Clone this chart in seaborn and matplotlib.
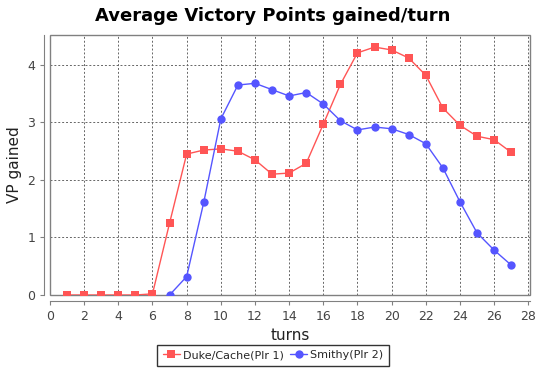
import numpy as np
import pandas as pd
import seaborn as sns
import matplotlib.pyplot as plt
from matplotlib.patches import Rectangle

# data
turns_p1 = list(range(1, 28))
vp_p1 = [0, 0, 0, 0, 0, 0.02, 1.25, 2.45, 2.52, 2.54, 2.50, 2.35, 2.10, 2.12,
         2.29, 2.97, 3.66, 4.21, 4.31, 4.26, 4.12, 3.82, 3.25, 2.95, 2.76, 2.70, 2.48]
turns_p2 = list(range(7, 28))
vp_p2 = [0, 0.32, 1.61, 3.06, 3.65, 3.68, 3.57, 3.46, 3.52, 3.32, 3.03, 2.87,
         2.92, 2.89, 2.79, 2.63, 2.21, 1.62, 1.08, 0.78, 0.52]
names = ["Duke/Cache(Plr 1)", "Smithy(Plr 2)"]
x_ticks = list(range(0, 29, 2))
y_ticks = [0, 1, 2, 3, 4]

df = pd.concat([
    pd.DataFrame({"turn": turns_p1, "vp": vp_p1, "player": names[0]}),
    pd.DataFrame({"turn": turns_p2, "vp": vp_p2, "player": names[1]}),
])

sns.set_style("white")
plt.rcParams['font.family'] = ['DejaVu Sans']

fig = plt.figure(figsize=(5.46, 3.69), dpi=100)
ax = fig.add_axes([50 / 546, 74 / 369, 480 / 546, 260 / 369])

sns.lineplot(data=df, x="turn", y="vp", hue="player", style="player",
             palette=["#FF5555", "#5555FF"], markers=["s", "o"], dashes=False,
             markersize=6, markeredgewidth=0, linewidth=1, ax=ax)

ax.set_xlim(0, 28.1)
ax.set_ylim(0, 4.52)
ax.set_xticks(x_ticks)
ax.set_yticks(y_ticks)
ax.grid(True, color="#666666", linestyle=(0, (2, 2)), linewidth=0.7)
ax.tick_params(axis="both", labelsize=9, colors="#808080", length=3,
               direction="out", left=True, bottom=True, labelcolor="#444444")

for side in ["top", "right"]:
    ax.spines[side].set_visible(False)
for side in ["left", "bottom"]:
    ax.spines[side].set_position(("outward", 4))
    ax.spines[side].set_color("#808080")
ax.add_patch(Rectangle((0, 0), 1, 1, transform=ax.transAxes, fill=False,
                       edgecolor="#808080", linewidth=1, clip_on=False))

ax.set_xlabel("turns", fontsize=11, color="#222222")
ax.set_ylabel("VP gained", fontsize=11, color="#222222")
fig.suptitle("Average Victory Points gained/turn", fontsize=13,
             fontweight="heavy", color="black", y=0.98)

# legend centred on the figure, below the axis title
ax.legend(title=None, loc="upper center", bbox_to_anchor=(0.465, -0.17),
          ncol=2, fontsize=8, frameon=True, fancybox=False, edgecolor="black",
          handlelength=1.5, handletextpad=0.3, columnspacing=0.6,
          borderpad=0.5)

fig.savefig("out.png", dpi=100)
